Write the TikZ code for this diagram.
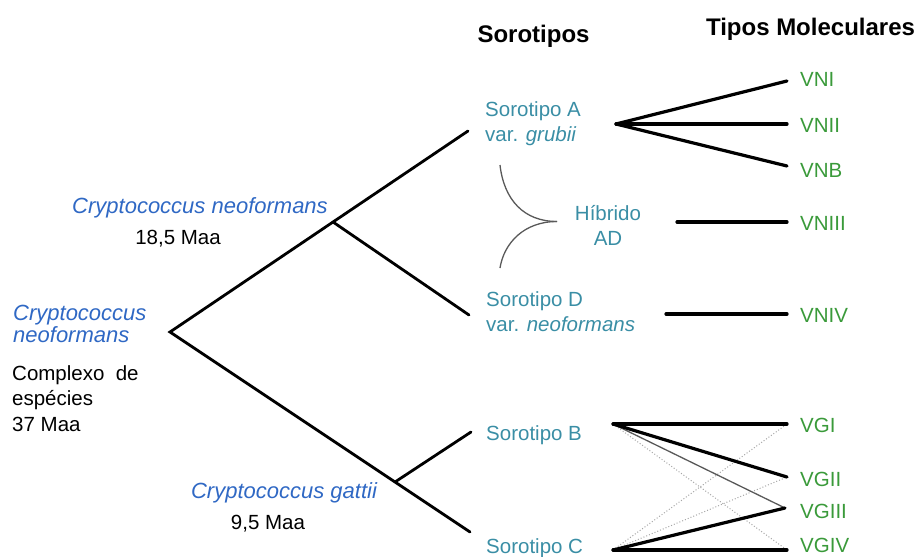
\documentclass[tikz,border=0pt]{standalone}
\usepackage{fontspec}
\setmainfont{Liberation Sans}
\definecolor{cblue}{HTML}{2F68C4}
\definecolor{cteal}{HTML}{3A8EA5}
\definecolor{cgreen}{HTML}{3A9A3A}
\begin{document}
\begin{tikzpicture}[x=1pt,y=-1pt,
  tree/.style={line width=2.8pt, black, line cap=round},
  fan/.style={line width=3.2pt, black, line cap=round},
  thinl/.style={line width=1.3pt, black!65},
  dotl/.style={line width=1pt, black!35, dotted},
  hyb/.style={line width=1.3pt, black!65},
  body/.style={font=\fontsize{20.5}{25.5}\selectfont, inner sep=0pt},
  sp/.style={body, text=cteal, align=left, anchor=north west},
  mt/.style={body, text=cgreen, anchor=west},
  sci/.style={font=\fontsize{22}{22.4}\selectfont\itshape, text=cblue, inner sep=0pt},
  hdr/.style={font=\fontsize{24}{28}\selectfont\bfseries, inner sep=0pt, anchor=north}]
\useasboundingbox (0,0) rectangle (919,557);
% headers
\node[hdr] (hs) at (533.5,25) {Sorotipos};
\node[hdr] (hm) at (810.5,18) {Tipos Moleculares};
% left labels
\node[sci, anchor=north] (cnt) at (200,197) {Cryptococcus neoformans};
\node[body, anchor=north] (m18) at (178,230) {18,5 Maa};
\node[sci, anchor=north west, align=left] (cnl) at (13,305) {Cryptococcus\\neoformans};
\node[body, anchor=north west, align=left] (cx) at (12,365) {Complexo\ \ de\\espécies\\37 Maa};
\node[sci, anchor=north] (cg) at (284,482) {Cryptococcus gattii};
\node[body, anchor=north] (m95) at (268,515) {9,5 Maa};
% serotypes
\node[sp] (sA) at (485,101) {Sorotipo A\\var. \textit{grubii}};
\node[sp] (sD) at (486,291) {Sorotipo D\\var. \textit{neoformans}};
\node[body, text=cteal, align=center, anchor=north] (hib) at (608,205) {Híbrido\\AD};
\node[sp] (sB) at (486,425) {Sorotipo B};
\node[sp] (sC) at (486,538) {Sorotipo C};
% molecular types
\node[mt] (vni) at (800,79) {VNI};
\node[mt] (vnii) at (800,125) {VNII};
\node[mt] (vnb) at (800,170) {VNB};
\node[mt] (vniii) at (800,223) {VNIII};
\node[mt] (vniv) at (800,315) {VNIV};
\node[mt] (vgi) at (800,425) {VGI};
\node[mt] (vgii) at (800,479) {VGII};
\node[mt] (vgiii) at (800,511) {VGIII};
\node[mt] (vgiv) at (800,545) {VGIV};
% tree coordinates
\coordinate (root) at (170,332);
\coordinate (nA) at (333,222);
\coordinate (nG) at (395,482);
\coordinate (eA) at (468,131);
\coordinate (eD) at (469,315);
\coordinate (eB) at (471,432);
\coordinate (eC) at (470,532);
\draw[tree] (eA) -- (nA) -- (root) -- (nG) -- (eC);
\draw[tree] (nA) -- (eD);
\draw[tree] (nG) -- (eB);
% hybrid
\coordinate (hT) at (500,165);
\coordinate (hB) at (500,268);
\coordinate (hTip) at (557,221.5);
\draw[hyb] (hT) .. controls (504,200) and (524,221.5) .. (hTip);
\draw[hyb] (hB) .. controls (504,243) and (524,221.5) .. (hTip);
% fan coordinates
\coordinate (fA) at (616,124);
\coordinate (fB) at (613,424);
\coordinate (fC) at (613,550);
\coordinate (t1) at (787,81);
\coordinate (t2) at (787,124);
\coordinate (t3) at (787,166);
\coordinate (t4a) at (677,222);
\coordinate (t4) at (787,222);
\coordinate (t5a) at (666,314);
\coordinate (t5) at (787,314);
\coordinate (g1) at (787,424);
\coordinate (g2) at (787,477);
\coordinate (g3) at (785,508);
\coordinate (g4) at (787,550);
\draw[fan] (fA) -- (t1);
\draw[fan] (fA) -- (t2);
\draw[fan] (fA) -- (t3);
\draw[fan] (t4a) -- (t4);
\draw[fan] (t5a) -- (t5);
\draw[dotl] (fB) -- (g4);
\draw[dotl] (fC) -- (g1);
\draw[dotl] (fC) -- (g2);
\draw[thinl] (fB) -- (g3);
\draw[fan] (fB) -- (g1);
\draw[fan] (fB) -- (g2);
\draw[fan] (fC) -- (g3);
\draw[fan] (fC) -- (g4);
\end{tikzpicture}
\end{document}
